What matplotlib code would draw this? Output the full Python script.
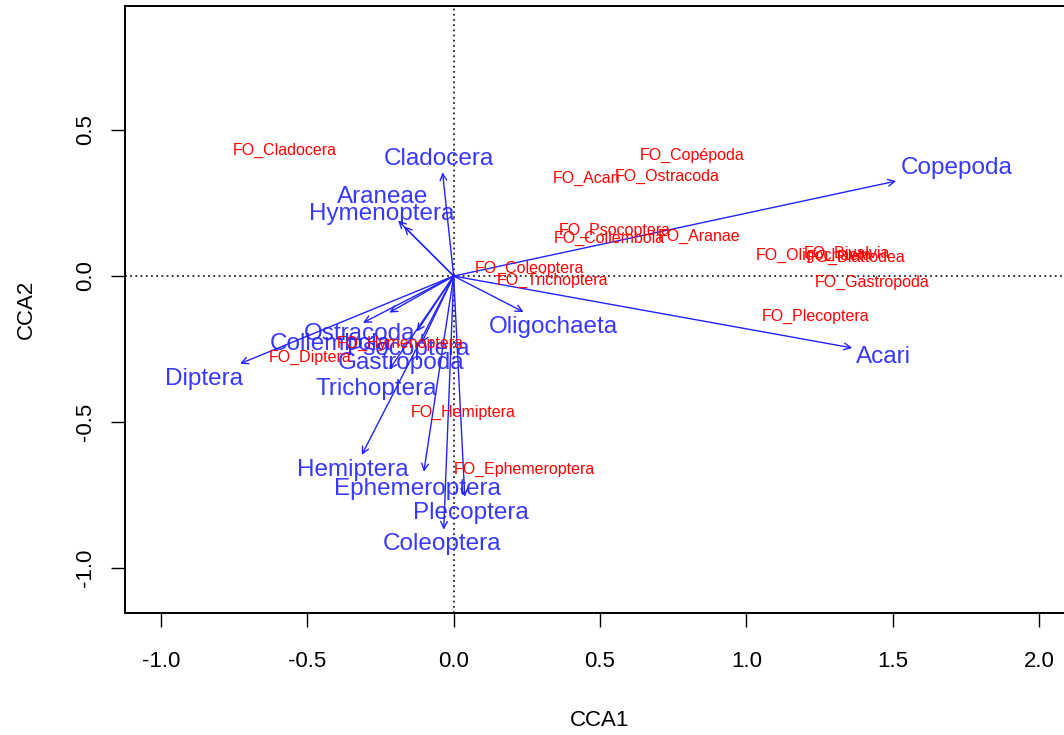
import matplotlib.pyplot as plt

# especies (setas azuis)
especies = [
    "Copepoda", "Acari", "Oligochaeta", "Cladocera", "Araneae",
    "Hymenoptera", "Ostracoda", "Collembola", "Psocoptera", "Gastropoda",
    "Diptera", "Trichoptera", "Hemiptera", "Ephemeroptera", "Plecoptera",
    "Coleoptera"
]

# pontas das setas (CCA1, CCA2)
seta_x = [1.512, 1.362, 0.239, -0.038, -0.17, -0.19, -0.31, -0.22, -0.126,
          -0.11, -0.73, -0.22, -0.314, -0.102, 0.038, -0.034]
seta_y = [0.325, -0.246, -0.123, 0.355, 0.17, 0.19, -0.16, -0.125, -0.19,
          -0.23, -0.30, -0.32, -0.612, -0.670, -0.755, -0.868]

# posicao dos rotulos das especies
rot_x = [1.720, 1.468, 0.341, -0.051, -0.242, -0.246, -0.320, -0.423, -0.154,
         -0.181, -0.853, -0.263, -0.345, -0.123, 0.058, -0.041]
rot_y = [0.369, -0.277, -0.174, 0.400, 0.270, 0.212, -0.198, -0.232, -0.250,
         -0.298, -0.352, -0.387, -0.663, -0.728, -0.810, -0.916]

# variaveis FO (texto vermelho)
fo_nomes = [
    "FO_Cladocera", "FO_Copépoda", "FO_Acari", "FO_Ostracoda",
    "FO_Psocoptera", "FO_Collembola", "FO_Aranae", "FO_Oligochaeta",
    "FO_Bivalvia", "FO_Blattodea", "FO_Gastropoda", "FO_Coleoptera",
    "FO_Trichoptera", "FO_Plecoptera", "FO_Diptera", "FO_Hymenoptera",
    "FO_Hemiptera", "FO_Ephemeroptera"
]
fo_x = [-0.577, 0.816, 0.454, 0.730, 0.549, 0.532, 0.840, 1.232, 1.345,
        1.375, 1.430, 0.259, 0.338, 1.235, -0.491, -0.184, 0.031, 0.242]
fo_y = [0.431, 0.414, 0.335, 0.342, 0.157, 0.130, 0.137, 0.072, 0.079,
        0.062, -0.021, 0.027, -0.014, -0.137, -0.277, -0.229, -0.465, -0.663]

x_ticks = [-1.0, -0.5, 0.0, 0.5, 1.0, 1.5, 2.0]
y_ticks = [-1.0, -0.5, 0.0, 0.5]

plt.rcParams['font.family'] = ['Liberation Sans', 'DejaVu Sans']

azul = '#2222ff'

fig = plt.figure(figsize=(10.64, 7.35), dpi=100)

# eixo passa um pouco da borda direita
ax = fig.add_axes([125 / 1064, 1 - 613 / 735, 950 / 1064, 607 / 735])

ax.set_xlim(-1.123, 2.123)
ax.set_ylim(-1.153, 0.924)

# linhas de referencia
ax.axhline(0, color='black', linestyle=(0, (1.2, 2.2)), linewidth=1.1)
ax.axvline(0, color='black', linestyle=(0, (1.2, 2.2)), linewidth=1.1)

# setas das especies
for i in range(len(especies)):

    ax.annotate(
        "",
        xy=(seta_x[i], seta_y[i]),
        xytext=(0, 0),
        arrowprops=dict(
            arrowstyle='->',
            color=azul,
            lw=1.0,
            shrinkA=0,
            shrinkB=0,
            mutation_scale=12
        )
    )

    ax.text(
        rot_x[i],
        rot_y[i],
        especies[i],
        color=azul,
        fontsize=17.5,
        ha='center',
        va='center',
        alpha=0.9
    )

# rotulos FO
for i in range(len(fo_nomes)):

    ax.text(
        fo_x[i],
        fo_y[i],
        fo_nomes[i],
        color='red',
        fontsize=11.5,
        ha='center',
        va='center'
    )

ax.set_xticks(x_ticks)
ax.set_xticklabels([f"{v:.1f}" for v in x_ticks])
ax.set_yticks(y_ticks)
ax.set_yticklabels([f"{v:.1f}" for v in y_ticks], rotation=90, va='center')

ax.tick_params(
    axis='both',
    direction='out',
    length=10,
    width=1,
    labelsize=16
)
ax.tick_params(axis='x', pad=17.5)
ax.tick_params(axis='y', pad=11)

for lado in ax.spines.values():
    lado.set_linewidth(1.4)

ax.set_xlabel("CCA1", fontsize=16, labelpad=27)
ax.set_ylabel("CCA2", fontsize=16, labelpad=27)

plt.savefig("out.png", dpi=100)

plt.close()
